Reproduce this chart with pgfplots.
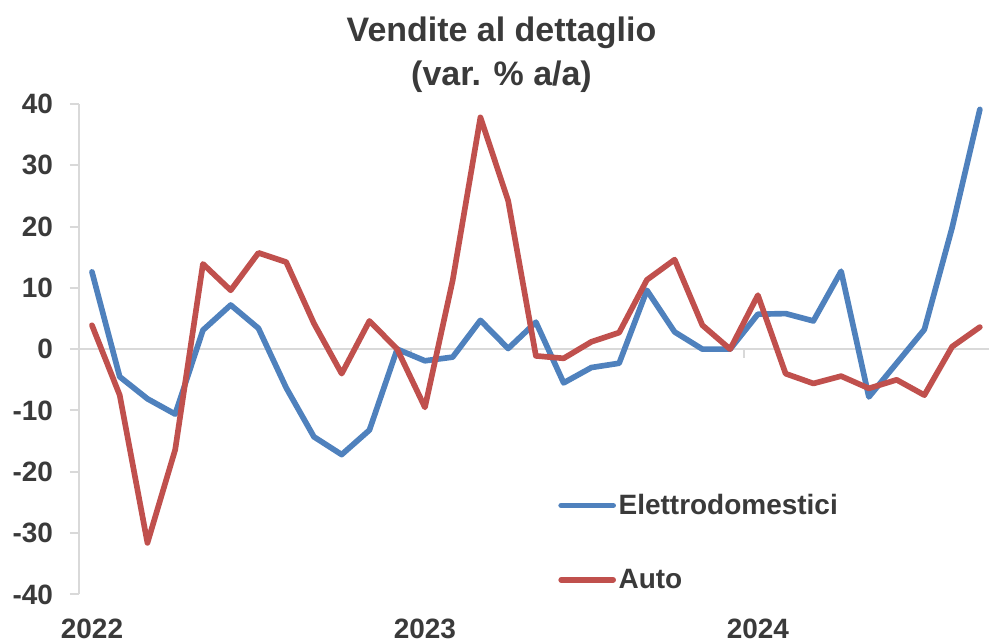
\documentclass[border=0pt]{standalone}
\usepackage{fontspec}
\setmainfont{Liberation Sans}
\usepackage{pgfplots}
\pgfplotsset{compat=1.18}
\definecolor{cblue}{HTML}{4F81BD}
\definecolor{cred}{HTML}{C0504D}
\definecolor{axgray}{HTML}{D9D9D9}
\definecolor{txt}{HTML}{3A3A3A}
\begin{document}
\begin{tikzpicture}
\begin{axis}[
  name=ax,
  at={(0,0)}, anchor=south west,
  scale only axis,
  width=683.25pt, height=368.25pt,
  xmin=-0.47, xmax=32.33,
  ymin=-40, ymax=40,
  ytick={-40,-30,...,40},
  xtick={0,12,24},
  xticklabels={2022,2023,2024},
  axis x line=none,
  axis y line*=left,
  y axis line style={draw=axgray, line width=1.5pt},
  tick align=outside,
  major tick length=6.75pt,
  ytick style={draw=axgray, line width=1.5pt},
  /pgf/number format/assume math mode=true,
  ticklabel style={font=\bfseries\fontsize{21}{25}\selectfont, text=txt},
  yticklabel style={anchor=east, inner sep=0pt, xshift=-12.5pt},
  clip=false,
  legend style={at={(axis cs:16.8,-23.2)}, anchor=north west, draw=none, fill=none,
    inner sep=0pt, row sep=35.5pt,
    font=\bfseries\fontsize{21}{25}\selectfont, text=txt,
    nodes={inner sep=2pt}},
  legend cell align=left,
  legend image code/.code={\draw[#1, line cap=round] (0pt,0pt) -- (39pt,0pt);},
]
\draw[axgray, line width=1.5pt] (axis cs:-0.47,0) -- (axis cs:32.33,0);
\draw[axgray, line width=1.5pt] (axis cs:11.5,0) -- ([yshift=-6.75pt]axis cs:11.5,0);
\draw[axgray, line width=1.5pt] (axis cs:23.5,0) -- ([yshift=-6.75pt]axis cs:23.5,0);
\node[anchor=base, font=\bfseries\fontsize{21}{25}\selectfont, text=txt] at ([yshift=-33.4pt]axis cs:0,-40) {2022};
\node[anchor=base, font=\bfseries\fontsize{21}{25}\selectfont, text=txt] at ([yshift=-33.4pt]axis cs:12,-40) {2023};
\node[anchor=base, font=\bfseries\fontsize{21}{25}\selectfont, text=txt] at ([yshift=-33.4pt]axis cs:24,-40) {2024};
\addplot[cblue, line width=4.25pt, line join=round, line cap=round] coordinates {
(0,12.6) (1,-4.5) (2,-8.1) (3,-10.6) (4,3.1) (5,7.2) (6,3.4) (7,-6.3) (8,-14.3) (9,-17.2) (10,-13.2) (11,0.0)
(12,-1.9) (13,-1.3) (14,4.7) (15,0.1) (16,4.4) (17,-5.5) (18,-3.0) (19,-2.3) (20,9.6) (21,2.8) (22,0.0) (23,0.0)
(24,5.7) (25,5.8) (26,4.6) (27,12.7) (28,-7.8) (29,-2.3) (30,3.2) (31,19.8) (32,39.1)
};
\addlegendentry{Elettrodomestici}
\addplot[cred, line width=4.25pt, line join=round, line cap=round] coordinates {
(0,3.9) (1,-7.5) (2,-31.6) (3,-16.4) (4,13.9) (5,9.6) (6,15.7) (7,14.2) (8,4.2) (9,-4.0) (10,4.6) (11,0.0)
(12,-9.5) (13,11.2) (14,37.8) (15,24.2) (16,-1.1) (17,-1.5) (18,1.2) (19,2.7) (20,11.3) (21,14.6) (22,3.9) (23,0.0)
(24,8.8) (25,-4.0) (26,-5.6) (27,-4.4) (28,-6.4) (29,-5.0) (30,-7.5) (31,0.4) (32,3.6)
};
\addlegendentry{Auto}
\end{axis}
\node[anchor=base, font=\bfseries\fontsize{25.5}{30}\selectfont, text=txt] at ([xshift=317.25pt, yshift=46.7pt]ax.north west) {Vendite al dettaglio};
\node[anchor=base, font=\bfseries\fontsize{25.5}{30}\selectfont, text=txt] at ([xshift=317.25pt, yshift=13.9pt]ax.north west) {(var. \% a/a)};
\path[use as bounding box] ([xshift=-59.25pt, yshift=-34.5pt]ax.south west) rectangle ([yshift=78pt]ax.north east);
\end{tikzpicture}
\end{document}
